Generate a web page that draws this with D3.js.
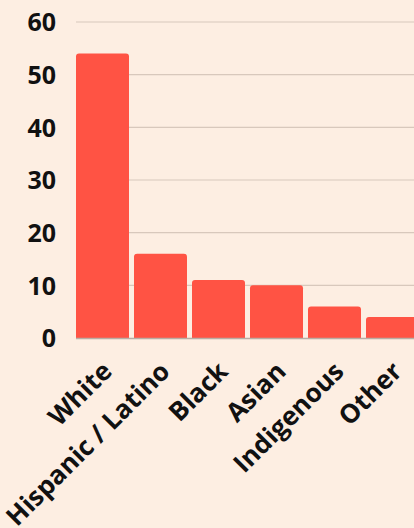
<!DOCTYPE html>
<html><head><meta charset="utf-8">
<script src="https://cdn.jsdelivr.net/npm/d3@7"></script>
<style>
html,body{margin:0;padding:0;background:#FDEEE2;overflow:hidden}
text{font-family:"Open Sans",sans-serif;font-weight:700;fill:#111}
</style></head>
<body><svg id="c" width="414" height="528"></svg>
<script>
const categories = ["White","Hispanic / Latino","Black","Asian","Indigenous","Other"];
const values = [54,16,11,10,6,4];
const yTicks = [0,10,20,30,40,50,60];

const svg = d3.select("#c");
const x = d3.scaleBand().domain(categories).range([76,419]).paddingInner(5/58).paddingOuter(0);
const y = d3.scaleLinear().domain([0,60]).range([338,22]);

// gridlines
svg.append("g").selectAll("line").data(yTicks.filter(d=>d>0)).join("line")
  .attr("x1",76).attr("x2",414).attr("y1",d=>y(d)).attr("y2",d=>y(d))
  .attr("stroke","#D8C8BC").attr("stroke-width",1.2);

// bars with rounded top corners
const r = 3;
svg.append("g").selectAll("path").data(values).join("path")
  .attr("fill","#FF5344")
  .attr("d",(d,i)=>{
    const x0 = x(categories[i]), w = x.bandwidth(), y0 = y(d), y1 = y(0);
    return `M${x0},${y1}V${y0+r}Q${x0},${y0} ${x0+r},${y0}H${x0+w-r}Q${x0+w},${y0} ${x0+w},${y0+r}V${y1}Z`;
  });

// baseline
svg.append("line").attr("x1",76).attr("x2",414).attr("y1",y(0)+0.5).attr("y2",y(0)+0.5)
  .attr("stroke","#B9ADA4").attr("stroke-width",1.5);

// y axis
const yAxis = d3.axisLeft(y).tickValues(yTicks).tickSize(0).tickPadding(0);
const gy = svg.append("g").attr("transform","translate(56,0)").call(yAxis);
gy.select(".domain").remove();
gy.selectAll("text").attr("font-size",25).attr("dy","0.35em").style("font-family","'Open Sans',sans-serif").style("font-weight",700).attr("fill","#111");

// x axis
const xAxis = d3.axisBottom(x).tickSize(0).tickPadding(0);
const gx = svg.append("g").attr("transform","translate(0,338)").call(xAxis);
gx.select(".domain").remove();
gx.selectAll("text")
  .attr("font-size",26).style("font-family","'Open Sans',sans-serif").style("font-weight",700).attr("fill","#111")
  .attr("text-anchor","end").attr("dy",null).attr("y",0)
  .attr("transform","translate(11,35) rotate(-45)");
</script></body></html>
